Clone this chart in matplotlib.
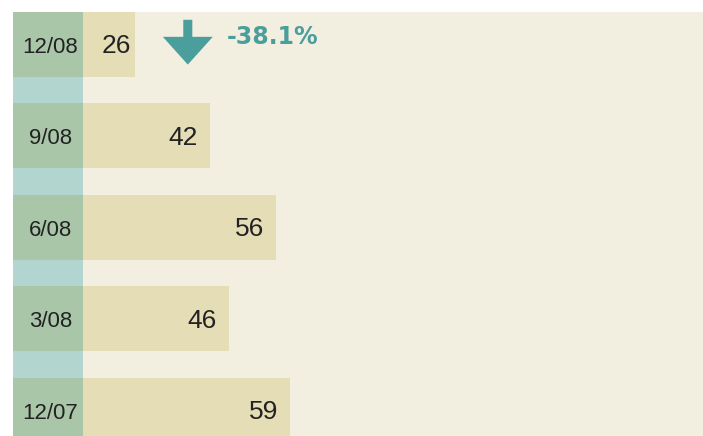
import matplotlib.pyplot as plt

# chart data (top row first)
dates = ["12/08", "9/08", "6/08", "3/08", "12/07"]
values = [26, 42, 56, 46, 59]
change_label = "-38.1%"

# colours
bg = "#f3efe0"
bar_col = "#e5ddb6"
cell_col = "#a9c6a9"
gap_col = "#b3d5cf"
teal = "#4a9e9c"
ink = "#222222"

plt.rcParams['font.family'] = ['Liberation Sans', 'DejaVu Sans']

fig = plt.figure(figsize=(7.03, 4.36), dpi=100, facecolor="white")
# panel: x 12.5..703 px, y 12..436 px
ax = fig.add_axes([12.5 / 703, 0, 690.5 / 703, 424 / 436])
ax.set_facecolor(bg)

col_w = 15.0          # width of the date column in data units
bar_h = 0.71
pos = list(range(len(dates)))

ax.barh(pos, values, height=bar_h, color=bar_col, zorder=1)

# date column: teal strip with green cells per row
ax.axvspan(0, col_w, color=gap_col, zorder=2, lw=0)
ax.barh(pos, [col_w] * len(pos), height=bar_h, color=cell_col, zorder=3)

for y, d, v in zip(pos, dates, values):
    ax.text(col_w / 2 + 0.6, y + 0.03, d, ha="center", va="center",
            fontsize=16, color=ink, zorder=4)
    pad = -3 if v < 30 else -8.5
    ax.annotate(str(v), xy=(v, y + 0.02), xytext=(pad, 0),
                textcoords="offset points", ha="right", va="center",
                fontsize=19, color=ink, zorder=4)

# change indicator next to the newest bar
ax.annotate("", xy=(values[0] + 11.3, 0.22), xytext=(values[0] + 11.3, -0.27),
            arrowprops=dict(arrowstyle="simple,head_length=2.0,head_width=3.6,tail_width=0.65",
                            mutation_scale=10, color=teal, shrinkA=0, shrinkB=0, lw=0))
ax.text(values[0] + 19.6, -0.08, change_label, ha="left", va="center",
        fontsize=17, fontweight="bold", color=teal, family="DejaVu Sans")

ax.set_xlim(0, 690.5 / 4.7)
ax.set_ylim(4.28, -0.355)
ax.set_xticks([])
ax.set_yticks([])
for s in ax.spines.values():
    s.set_visible(False)

fig.savefig("out.png", dpi=100, facecolor="white")
